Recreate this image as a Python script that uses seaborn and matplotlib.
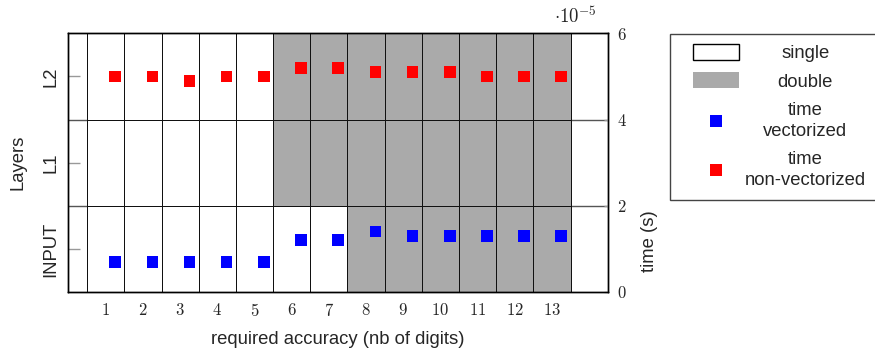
import numpy as np
import pandas as pd
import matplotlib
matplotlib.use("Agg")
import matplotlib.pyplot as plt
import seaborn as sns
from matplotlib.colors import ListedColormap
from matplotlib.patches import Patch, Rectangle
from matplotlib.lines import Line2D
from matplotlib.legend_handler import HandlerPatch

# ---------------- data ----------------
accuracy = [1, 2, 3, 4, 5, 6, 7, 8, 9, 10, 11, 12, 13]
layers = ["L2", "L1", "INPUT"]  # top to bottom
precision_L2 = ["single", "single", "single", "single", "single", "double", "double",
                "double", "double", "double", "double", "double", "double"]
precision_L1 = ["single", "single", "single", "single", "single", "double", "double",
                "double", "double", "double", "double", "double", "double"]
precision_INPUT = ["single", "single", "single", "single", "single", "single", "single",
                   "double", "double", "double", "double", "double", "double"]
# times in units of 1e-5 s
time_vectorized = [0.7, 0.7, 0.7, 0.7, 0.7, 1.2, 1.2, 1.4, 1.3, 1.3, 1.3, 1.3, 1.3]
time_non_vectorized = [5.0, 5.0, 4.9, 5.0, 5.0, 5.2, 5.2, 5.1, 5.1, 5.1, 5.0, 5.0, 5.0]
time_ticks = [0, 2, 4, 6]
time_scale_label = r"$\cdot 10^{-5}$"
legend_labels = ["single", "double", "time\nvectorized", "time\nnon-vectorized"]

GRAY = "#aaaaaa"
BLUE = "#0000ff"
RED = "#ff0000"

# ---------------- style ----------------
sns.set_theme(style="white")
plt.rcParams["font.family"] = ["Liberation Sans", "DejaVu Sans"]
plt.rcParams["mathtext.fontset"] = "cm"
LABEL_FS = 13.3
TICK_FS = 12

fig = plt.figure(figsize=(8.75, 3.49), dpi=100)
ax = fig.add_axes([68.3 / 875, 1 - 292 / 349, 539.4 / 875, 258.7 / 349])

code = {"single": 0, "double": 1}
grid = pd.DataFrame([[code[p] for p in prec] for prec in
                     (precision_L2, precision_L1, precision_INPUT)],
                    index=layers, columns=accuracy)

sns.heatmap(grid, ax=ax, cmap=ListedColormap(["white", GRAY]), vmin=0, vmax=1,
            cbar=False, linewidths=0.6, linecolor="#111111",
            xticklabels=[f"${a}$" for a in accuracy], yticklabels=layers)

for s in ax.spines.values():
    s.set_visible(True)
    s.set_color("black")
    s.set_linewidth(1)

ax.axhline(1, color="#555555", lw=1, zorder=0.5)
ax.axhline(2, color="#555555", lw=1, zorder=0.5)

ax.tick_params(axis="x", bottom=False, length=0, pad=7, labelsize=TICK_FS)
ax.tick_params(axis="y", left=True, direction="in", length=8.4, width=1,
               color="#999999", pad=6.5, labelsize=LABEL_FS)
for lbl in ax.get_yticklabels():
    lbl.set_rotation(90)
    lbl.set_va("center")
for lbl in ax.get_xticklabels():
    lbl.set_rotation(0)

ax.set_ylabel("Layers", fontsize=LABEL_FS)
ax.yaxis.set_label_coords(-0.077, 0.5)
ax.set_xlabel("required accuracy (nb of digits)", fontsize=LABEL_FS)
ax.xaxis.set_label_coords(0.5, -0.149)

# ---------------- time axis ----------------
ax2 = ax.twinx()
times = pd.DataFrame({
    "pos": [a - 0.25 for a in accuracy] * 2,
    "time": time_vectorized + time_non_vectorized,
    "series": ["vectorized"] * len(accuracy) + ["non-vectorized"] * len(accuracy),
})
sns.scatterplot(data=times, x="pos", y="time", hue="series",
                palette={"vectorized": BLUE, "non-vectorized": RED},
                marker="s", s=70, linewidth=0, legend=False, ax=ax2)
ax2.set_ylim(0, 6)
ax2.set_yticks(time_ticks, labels=[f"${t}$" for t in time_ticks])
ax2.tick_params(axis="y", right=True, direction="in", length=3, width=1,
                color="#999999", pad=7, labelsize=TICK_FS)
ax2.set_ylabel("time (s)", fontsize=LABEL_FS)
ax2.yaxis.set_label_coords(1.062, 0.197)
ax2.text(0.98, 1.025, time_scale_label, transform=ax2.transAxes,
         ha="right", va="bottom", fontsize=13.5)
for s in ax2.spines.values():
    s.set_color("black")
    s.set_linewidth(1)

ax.set_xlim(-0.51, 14.0)
ax.set_ylim(3, 0)

# ---------------- legend ----------------
handles = [
    Patch(facecolor="white", edgecolor="black", lw=1),
    Patch(facecolor=GRAY, edgecolor="none"),
    Line2D([], [], marker="s", ls="none", color=BLUE, mew=0, markersize=8.4),
    Line2D([], [], marker="s", ls="none", color=RED, mew=0, markersize=8.4),
]


def rect_handle(legend, orig_handle, xdescent, ydescent, width, height, fontsize):
    w, h = 33.1, 11.5
    return Rectangle((-xdescent + (width - w) / 2, -ydescent + (height - h) / 2), w, h)


leg = fig.legend(handles, legend_labels, loc="upper left",
                 bbox_to_anchor=(670 / 875, 1 - 34 / 349), borderaxespad=0,
                 prop={"family": "Liberation Sans", "size": LABEL_FS},
                 handlelength=3.73, handletextpad=-0.3, borderpad=0.62,
                 labelspacing=0.6, fancybox=False, framealpha=1,
                 handler_map={Patch: HandlerPatch(patch_func=rect_handle)})
leg.get_frame().set_edgecolor("#444444")
leg.get_frame().set_linewidth(1)
for t in leg.get_texts():
    t.set_linespacing(1.3)
    t.set_multialignment("center")

fig.canvas.draw()
renderer = fig.canvas.get_renderer()
texts = leg.get_texts()
widths = [t.get_window_extent(renderer).width for t in texts]
maxw = max(widths)
for t, w in zip(texts, widths):
    t.set_x((maxw - w) / 2)

fig.savefig("out.png", dpi=100, facecolor="white")
